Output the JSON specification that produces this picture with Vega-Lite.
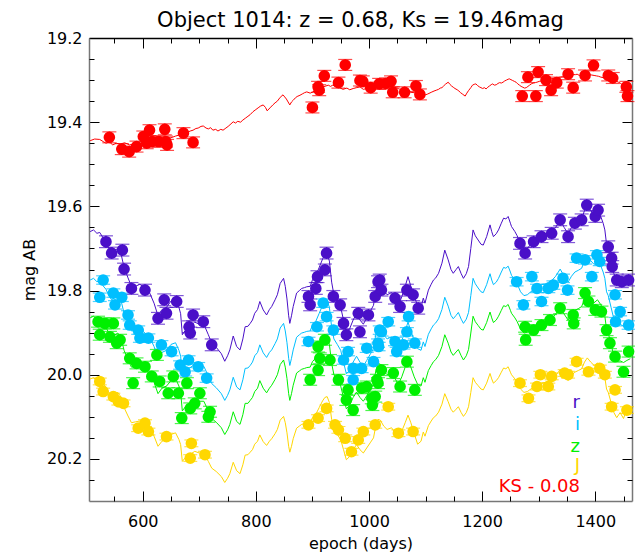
{
"$schema": "https://vega.github.io/schema/vega-lite/v6.json",
"width": 543, "height": 463,
"autosize": {"type": "none"},
"padding": {"left": 89, "top": 38, "right": 3, "bottom": 59},
"title": {"text": "Object 1014: z = 0.68, Ks = 19.46mag", "fontSize": 21, "font": "DejaVu Sans", "fontWeight": "normal", "color": "#000", "offset": -1},
"config": {
  "view": {"stroke": null},
  "font": "DejaVu Sans",
  "axis": {"labelFont": "DejaVu Sans", "titleFont": "DejaVu Sans", "labelFontSize": 16, "titleFontSize": 16, "labelColor": "#000", "titleColor": "#000", "titleFontWeight": "normal", "tickColor": "#000", "domainColor": "#777", "domainWidth": 1.5, "tickWidth": 1, "grid": false, "labelFlush": false}
},
"datasets": {
"ks": [
{"d":507,"m":19.444},{"d":515,"m":19.440},{"d":524,"m":19.441},{"d":530,"m":19.446},{"d":535,"m":19.450},{"d":541,"m":19.447},{"d":547,"m":19.454},{"d":553,"m":19.450},{"d":560,"m":19.452},{"d":568,"m":19.449},{"d":577,"m":19.454},{"d":585,"m":19.451},{"d":592,"m":19.449},{"d":600,"m":19.444},{"d":608,"m":19.446},{"d":615,"m":19.448},{"d":622,"m":19.445},{"d":629,"m":19.440},{"d":636,"m":19.442},{"d":643,"m":19.438},{"d":650,"m":19.437},{"d":658,"m":19.433},{"d":666,"m":19.430},{"d":672,"m":19.428},{"d":678,"m":19.425},{"d":684,"m":19.421},{"d":689,"m":19.419},{"d":694,"m":19.415},{"d":698,"m":19.414},{"d":703,"m":19.410},{"d":707,"m":19.409},{"d":712,"m":19.414},{"d":716,"m":19.416},{"d":720,"m":19.413},{"d":724,"m":19.419},{"d":729,"m":19.417},{"d":733,"m":19.421},{"d":738,"m":19.417},{"d":742,"m":19.419},{"d":747,"m":19.414},{"d":751,"m":19.410},{"d":756,"m":19.404},{"d":760,"m":19.399},{"d":764,"m":19.402},{"d":768,"m":19.398},{"d":773,"m":19.400},{"d":777,"m":19.395},{"d":782,"m":19.390},{"d":786,"m":19.386},{"d":790,"m":19.382},{"d":795,"m":19.375},{"d":800,"m":19.370},{"d":804,"m":19.366},{"d":808,"m":19.362},{"d":813,"m":19.359},{"d":817,"m":19.365},{"d":820,"m":19.373},{"d":825,"m":19.366},{"d":830,"m":19.359},{"d":834,"m":19.354},{"d":838,"m":19.350},{"d":843,"m":19.341},{"d":848,"m":19.335},{"d":851,"m":19.340},{"d":854,"m":19.345},{"d":857,"m":19.352},{"d":860,"m":19.359},{"d":863,"m":19.352},{"d":866,"m":19.348},{"d":870,"m":19.342},{"d":873,"m":19.339},{"d":878,"m":19.336},{"d":882,"m":19.333},{"d":886,"m":19.330},{"d":890,"m":19.328},{"d":896,"m":19.331},{"d":901,"m":19.328},{"d":905,"m":19.324},{"d":910,"m":19.322},{"d":914,"m":19.318},{"d":919,"m":19.316},{"d":924,"m":19.314},{"d":928,"m":19.312},{"d":932,"m":19.315},{"d":936,"m":19.312},{"d":942,"m":19.316},{"d":948,"m":19.318},{"d":954,"m":19.322},{"d":961,"m":19.319},{"d":966,"m":19.323},{"d":972,"m":19.320},{"d":978,"m":19.318},{"d":984,"m":19.316},{"d":990,"m":19.322},{"d":996,"m":19.320},{"d":1002,"m":19.315},{"d":1009,"m":19.318},{"d":1014,"m":19.314},{"d":1020,"m":19.316},{"d":1025,"m":19.313},{"d":1030,"m":19.312},{"d":1035,"m":19.316},{"d":1039,"m":19.314},{"d":1044,"m":19.317},{"d":1048,"m":19.318},{"d":1053,"m":19.321},{"d":1058,"m":19.323},{"d":1063,"m":19.328},{"d":1069,"m":19.326},{"d":1074,"m":19.329},{"d":1080,"m":19.330},{"d":1086,"m":19.332},{"d":1092,"m":19.334},{"d":1098,"m":19.336},{"d":1104,"m":19.333},{"d":1110,"m":19.329},{"d":1115,"m":19.326},{"d":1119,"m":19.324},{"d":1123,"m":19.322},{"d":1126,"m":19.319},{"d":1129,"m":19.318},{"d":1132,"m":19.314},{"d":1135,"m":19.310},{"d":1138,"m":19.307},{"d":1140,"m":19.305},{"d":1143,"m":19.310},{"d":1146,"m":19.314},{"d":1149,"m":19.317},{"d":1152,"m":19.320},{"d":1156,"m":19.323},{"d":1159,"m":19.326},{"d":1162,"m":19.330},{"d":1165,"m":19.333},{"d":1168,"m":19.336},{"d":1170,"m":19.338},{"d":1173,"m":19.331},{"d":1176,"m":19.325},{"d":1180,"m":19.318},{"d":1183,"m":19.312},{"d":1186,"m":19.310},{"d":1189,"m":19.309},{"d":1192,"m":19.313},{"d":1195,"m":19.316},{"d":1198,"m":19.318},{"d":1201,"m":19.320},{"d":1204,"m":19.318},{"d":1207,"m":19.321},{"d":1210,"m":19.317},{"d":1213,"m":19.314},{"d":1216,"m":19.311},{"d":1218,"m":19.309},{"d":1222,"m":19.312},{"d":1225,"m":19.311},{"d":1228,"m":19.308},{"d":1231,"m":19.306},{"d":1234,"m":19.307},{"d":1237,"m":19.305},{"d":1240,"m":19.302},{"d":1243,"m":19.300},{"d":1246,"m":19.298},{"d":1248,"m":19.297},{"d":1251,"m":19.299},{"d":1254,"m":19.301},{"d":1257,"m":19.303},{"d":1260,"m":19.305},{"d":1263,"m":19.309},{"d":1266,"m":19.312},{"d":1269,"m":19.315},{"d":1272,"m":19.317},{"d":1275,"m":19.319},{"d":1278,"m":19.318},{"d":1281,"m":19.315},{"d":1284,"m":19.312},{"d":1287,"m":19.309},{"d":1290,"m":19.307},{"d":1294,"m":19.306},{"d":1297,"m":19.305},{"d":1301,"m":19.303},{"d":1305,"m":19.302},{"d":1310,"m":19.301},{"d":1314,"m":19.300},{"d":1318,"m":19.298},{"d":1322,"m":19.297},{"d":1326,"m":19.296},{"d":1330,"m":19.295},{"d":1334,"m":19.294},{"d":1338,"m":19.293},{"d":1342,"m":19.292},{"d":1346,"m":19.291},{"d":1350,"m":19.290},{"d":1354,"m":19.288},{"d":1358,"m":19.288},{"d":1361,"m":19.287},{"d":1365,"m":19.287},{"d":1368,"m":19.286},{"d":1372,"m":19.289},{"d":1376,"m":19.292},{"d":1380,"m":19.290},{"d":1383,"m":19.288},{"d":1387,"m":19.287},{"d":1390,"m":19.287},{"d":1394,"m":19.288},{"d":1398,"m":19.289},{"d":1402,"m":19.290},{"d":1406,"m":19.291},{"d":1410,"m":19.293},{"d":1414,"m":19.294},{"d":1418,"m":19.293},{"d":1421,"m":19.292},{"d":1425,"m":19.292},{"d":1428,"m":19.293},{"d":1432,"m":19.297},{"d":1436,"m":19.300},{"d":1438,"m":19.303},{"d":1441,"m":19.305},{"d":1444,"m":19.307},{"d":1446,"m":19.309},{"d":1449,"m":19.312},{"d":1452,"m":19.315},{"d":1455,"m":19.318},{"d":1458,"m":19.320},{"d":1461,"m":19.323},{"d":1464,"m":19.326}
],
"lines": [
{"s":"r","d":507,"m":19.660},{"s":"r","d":513,"m":19.656},{"s":"r","d":519,"m":19.664},{"s":"r","d":524,"m":19.662},{"s":"r","d":530,"m":19.675},{"s":"r","d":535,"m":19.684},{"s":"r","d":540,"m":19.700},{"s":"r","d":545,"m":19.711},{"s":"r","d":550,"m":19.705},{"s":"r","d":556,"m":19.700},{"s":"r","d":562,"m":19.715},{"s":"r","d":567,"m":19.745},{"s":"r","d":574,"m":19.770},{"s":"r","d":580,"m":19.790},{"s":"r","d":587,"m":19.790},{"s":"r","d":595,"m":19.785},{"s":"r","d":604,"m":19.795},{"s":"r","d":612,"m":19.805},{"s":"r","d":620,"m":19.830},{"s":"r","d":627,"m":19.860},{"s":"r","d":634,"m":19.845},{"s":"r","d":642,"m":19.840},{"s":"r","d":650,"m":19.825},{"s":"r","d":658,"m":19.820},{"s":"r","d":664,"m":19.840},{"s":"r","d":667,"m":19.855},{"s":"r","d":670,"m":19.905},{"s":"r","d":676,"m":19.893},{"s":"r","d":683,"m":19.885},{"s":"r","d":692,"m":19.875},{"s":"r","d":700,"m":19.880},{"s":"r","d":708,"m":19.880},{"s":"r","d":716,"m":19.905},{"s":"r","d":722,"m":19.925},{"s":"r","d":730,"m":19.935},{"s":"r","d":739,"m":19.950},{"s":"r","d":745,"m":19.968},{"s":"r","d":750,"m":19.955},{"s":"r","d":754,"m":19.941},{"s":"r","d":760,"m":19.908},{"s":"r","d":766,"m":19.933},{"s":"r","d":772,"m":19.941},{"s":"r","d":777,"m":19.915},{"s":"r","d":781,"m":19.886},{"s":"r","d":786,"m":19.885},{"s":"r","d":790,"m":19.878},{"s":"r","d":794,"m":19.870},{"s":"r","d":798,"m":19.854},{"s":"r","d":803,"m":19.845},{"s":"r","d":807,"m":19.826},{"s":"r","d":813,"m":19.846},{"s":"r","d":819,"m":19.858},{"s":"r","d":824,"m":19.845},{"s":"r","d":828,"m":19.838},{"s":"r","d":834,"m":19.822},{"s":"r","d":838,"m":19.810},{"s":"r","d":843,"m":19.783},{"s":"r","d":849,"m":19.771},{"s":"r","d":852,"m":19.790},{"s":"r","d":855,"m":19.820},{"s":"r","d":858,"m":19.860},{"s":"r","d":860,"m":19.878},{"s":"r","d":863,"m":19.860},{"s":"r","d":866,"m":19.838},{"s":"r","d":872,"m":19.806},{"s":"r","d":877,"m":19.800},{"s":"r","d":881,"m":19.795},{"s":"r","d":886,"m":19.793},{"s":"r","d":890,"m":19.791},{"s":"r","d":896,"m":19.790},{"s":"r","d":900,"m":19.775},{"s":"r","d":906,"m":19.765},{"s":"r","d":912,"m":19.745},{"s":"r","d":918,"m":19.725},{"s":"r","d":922,"m":19.715},{"s":"r","d":926,"m":19.713},{"s":"r","d":930,"m":19.730},{"s":"r","d":934,"m":19.780},{"s":"r","d":938,"m":19.810},{"s":"r","d":944,"m":19.825},{"s":"r","d":950,"m":19.840},{"s":"r","d":955,"m":19.870},{"s":"r","d":960,"m":19.900},{"s":"r","d":966,"m":19.890},{"s":"r","d":972,"m":19.870},{"s":"r","d":978,"m":19.855},{"s":"r","d":984,"m":19.870},{"s":"r","d":990,"m":19.880},{"s":"r","d":996,"m":19.865},{"s":"r","d":1002,"m":19.850},{"s":"r","d":1008,"m":19.835},{"s":"r","d":1012,"m":19.800},{"s":"r","d":1016,"m":19.780},{"s":"r","d":1020,"m":19.780},{"s":"r","d":1026,"m":19.800},{"s":"r","d":1032,"m":19.810},{"s":"r","d":1040,"m":19.805},{"s":"r","d":1046,"m":19.820},{"s":"r","d":1052,"m":19.835},{"s":"r","d":1058,"m":19.815},{"s":"r","d":1064,"m":19.790},{"s":"r","d":1069,"m":19.767},{"s":"r","d":1074,"m":19.790},{"s":"r","d":1080,"m":19.815},{"s":"r","d":1086,"m":19.835},{"s":"r","d":1092,"m":19.840},{"s":"r","d":1096,"m":19.818},{"s":"r","d":1099,"m":19.830},{"s":"r","d":1105,"m":19.799},{"s":"r","d":1110,"m":19.785},{"s":"r","d":1114,"m":19.775},{"s":"r","d":1118,"m":19.770},{"s":"r","d":1123,"m":19.759},{"s":"r","d":1129,"m":19.735},{"s":"r","d":1134,"m":19.704},{"s":"r","d":1140,"m":19.727},{"s":"r","d":1145,"m":19.750},{"s":"r","d":1149,"m":19.759},{"s":"r","d":1154,"m":19.750},{"s":"r","d":1158,"m":19.743},{"s":"r","d":1163,"m":19.760},{"s":"r","d":1167,"m":19.771},{"s":"r","d":1172,"m":19.760},{"s":"r","d":1176,"m":19.743},{"s":"r","d":1180,"m":19.700},{"s":"r","d":1184,"m":19.656},{"s":"r","d":1188,"m":19.670},{"s":"r","d":1193,"m":19.680},{"s":"r","d":1198,"m":19.690},{"s":"r","d":1202,"m":19.692},{"s":"r","d":1208,"m":19.672},{"s":"r","d":1214,"m":19.644},{"s":"r","d":1217,"m":19.660},{"s":"r","d":1220,"m":19.672},{"s":"r","d":1225,"m":19.665},{"s":"r","d":1229,"m":19.656},{"s":"r","d":1234,"m":19.640},{"s":"r","d":1238,"m":19.628},{"s":"r","d":1242,"m":19.630},{"s":"r","d":1246,"m":19.624},{"s":"r","d":1250,"m":19.640},{"s":"r","d":1252,"m":19.648},{"s":"r","d":1258,"m":19.660},{"s":"r","d":1262,"m":19.670},{"s":"r","d":1268,"m":19.690},{"s":"r","d":1274,"m":19.700},{"s":"r","d":1280,"m":19.700},{"s":"r","d":1286,"m":19.690},{"s":"r","d":1292,"m":19.685},{"s":"r","d":1298,"m":19.680},{"s":"r","d":1305,"m":19.672},{"s":"r","d":1312,"m":19.670},{"s":"r","d":1318,"m":19.665},{"s":"r","d":1324,"m":19.660},{"s":"r","d":1330,"m":19.650},{"s":"r","d":1338,"m":19.632},{"s":"r","d":1345,"m":19.650},{"s":"r","d":1352,"m":19.665},{"s":"r","d":1358,"m":19.650},{"s":"r","d":1364,"m":19.640},{"s":"r","d":1370,"m":19.635},{"s":"r","d":1376,"m":19.630},{"s":"r","d":1381,"m":19.610},{"s":"r","d":1386,"m":19.597},{"s":"r","d":1392,"m":19.610},{"s":"r","d":1398,"m":19.620},{"s":"r","d":1404,"m":19.612},{"s":"r","d":1410,"m":19.625},{"s":"r","d":1414,"m":19.640},{"s":"r","d":1417,"m":19.656},{"s":"r","d":1420,"m":19.690},{"s":"r","d":1423,"m":19.700},{"s":"r","d":1428,"m":19.730},{"s":"r","d":1433,"m":19.760},{"s":"r","d":1438,"m":19.775},{"s":"r","d":1444,"m":19.775},{"s":"r","d":1450,"m":19.778},{"s":"r","d":1456,"m":19.772},{"s":"r","d":1462,"m":19.768},
{"s":"i","d":507,"m":19.775},{"s":"i","d":513,"m":19.771},{"s":"i","d":519,"m":19.779},{"s":"i","d":524,"m":19.777},{"s":"i","d":530,"m":19.789},{"s":"i","d":535,"m":19.797},{"s":"i","d":540,"m":19.812},{"s":"i","d":545,"m":19.822},{"s":"i","d":550,"m":19.817},{"s":"i","d":556,"m":19.812},{"s":"i","d":562,"m":19.826},{"s":"i","d":567,"m":19.854},{"s":"i","d":574,"m":19.877},{"s":"i","d":580,"m":19.896},{"s":"i","d":587,"m":19.894},{"s":"i","d":595,"m":19.891},{"s":"i","d":604,"m":19.901},{"s":"i","d":612,"m":19.910},{"s":"i","d":620,"m":19.933},{"s":"i","d":627,"m":19.961},{"s":"i","d":634,"m":19.947},{"s":"i","d":642,"m":19.942},{"s":"i","d":650,"m":19.928},{"s":"i","d":658,"m":19.924},{"s":"i","d":664,"m":19.942},{"s":"i","d":667,"m":19.956},{"s":"i","d":670,"m":20.003},{"s":"i","d":676,"m":19.992},{"s":"i","d":683,"m":19.984},{"s":"i","d":692,"m":19.975},{"s":"i","d":700,"m":19.980},{"s":"i","d":708,"m":19.980},{"s":"i","d":716,"m":20.003},{"s":"i","d":722,"m":20.021},{"s":"i","d":730,"m":20.031},{"s":"i","d":739,"m":20.045},{"s":"i","d":745,"m":20.061},{"s":"i","d":750,"m":20.049},{"s":"i","d":754,"m":20.036},{"s":"i","d":760,"m":20.006},{"s":"i","d":766,"m":20.029},{"s":"i","d":772,"m":20.036},{"s":"i","d":777,"m":20.012},{"s":"i","d":781,"m":19.985},{"s":"i","d":786,"m":19.984},{"s":"i","d":790,"m":19.978},{"s":"i","d":794,"m":19.970},{"s":"i","d":798,"m":19.955},{"s":"i","d":803,"m":19.947},{"s":"i","d":807,"m":19.929},{"s":"i","d":813,"m":19.948},{"s":"i","d":819,"m":19.959},{"s":"i","d":824,"m":19.947},{"s":"i","d":828,"m":19.941},{"s":"i","d":834,"m":19.926},{"s":"i","d":838,"m":19.915},{"s":"i","d":843,"m":19.889},{"s":"i","d":849,"m":19.878},{"s":"i","d":852,"m":19.896},{"s":"i","d":855,"m":19.924},{"s":"i","d":858,"m":19.961},{"s":"i","d":860,"m":19.978},{"s":"i","d":863,"m":19.961},{"s":"i","d":866,"m":19.941},{"s":"i","d":872,"m":19.911},{"s":"i","d":877,"m":19.905},{"s":"i","d":881,"m":19.901},{"s":"i","d":886,"m":19.899},{"s":"i","d":890,"m":19.897},{"s":"i","d":896,"m":19.896},{"s":"i","d":900,"m":19.882},{"s":"i","d":906,"m":19.873},{"s":"i","d":912,"m":19.854},{"s":"i","d":918,"m":19.835},{"s":"i","d":922,"m":19.826},{"s":"i","d":926,"m":19.824},{"s":"i","d":930,"m":19.840},{"s":"i","d":934,"m":19.887},{"s":"i","d":938,"m":19.915},{"s":"i","d":944,"m":19.928},{"s":"i","d":950,"m":19.942},{"s":"i","d":955,"m":19.970},{"s":"i","d":960,"m":19.998},{"s":"i","d":966,"m":19.989},{"s":"i","d":972,"m":19.970},{"s":"i","d":978,"m":19.956},{"s":"i","d":984,"m":19.970},{"s":"i","d":990,"m":19.980},{"s":"i","d":996,"m":19.966},{"s":"i","d":1002,"m":19.952},{"s":"i","d":1008,"m":19.938},{"s":"i","d":1012,"m":19.905},{"s":"i","d":1016,"m":19.887},{"s":"i","d":1020,"m":19.889},{"s":"i","d":1026,"m":19.905},{"s":"i","d":1032,"m":19.915},{"s":"i","d":1040,"m":19.910},{"s":"i","d":1046,"m":19.924},{"s":"i","d":1052,"m":19.938},{"s":"i","d":1058,"m":19.919},{"s":"i","d":1064,"m":19.896},{"s":"i","d":1069,"m":19.875},{"s":"i","d":1074,"m":19.896},{"s":"i","d":1080,"m":19.919},{"s":"i","d":1086,"m":19.938},{"s":"i","d":1092,"m":19.942},{"s":"i","d":1096,"m":19.922},{"s":"i","d":1099,"m":19.933},{"s":"i","d":1105,"m":19.904},{"s":"i","d":1110,"m":19.891},{"s":"i","d":1114,"m":19.882},{"s":"i","d":1118,"m":19.877},{"s":"i","d":1123,"m":19.867},{"s":"i","d":1129,"m":19.845},{"s":"i","d":1134,"m":19.816},{"s":"i","d":1140,"m":19.837},{"s":"i","d":1145,"m":19.859},{"s":"i","d":1149,"m":19.867},{"s":"i","d":1154,"m":19.859},{"s":"i","d":1158,"m":19.852},{"s":"i","d":1163,"m":19.868},{"s":"i","d":1167,"m":19.878},{"s":"i","d":1172,"m":19.868},{"s":"i","d":1176,"m":19.852},{"s":"i","d":1180,"m":19.812},{"s":"i","d":1184,"m":19.771},{"s":"i","d":1188,"m":19.784},{"s":"i","d":1193,"m":19.794},{"s":"i","d":1198,"m":19.803},{"s":"i","d":1202,"m":19.805},{"s":"i","d":1208,"m":19.786},{"s":"i","d":1214,"m":19.760},{"s":"i","d":1217,"m":19.775},{"s":"i","d":1220,"m":19.786},{"s":"i","d":1225,"m":19.780},{"s":"i","d":1229,"m":19.771},{"s":"i","d":1234,"m":19.756},{"s":"i","d":1238,"m":19.745},{"s":"i","d":1242,"m":19.747},{"s":"i","d":1246,"m":19.742},{"s":"i","d":1250,"m":19.756},{"s":"i","d":1252,"m":19.764},{"s":"i","d":1258,"m":19.775},{"s":"i","d":1262,"m":19.784},{"s":"i","d":1268,"m":19.803},{"s":"i","d":1274,"m":19.812},{"s":"i","d":1280,"m":19.810},{"s":"i","d":1286,"m":19.803},{"s":"i","d":1292,"m":19.798},{"s":"i","d":1298,"m":19.794},{"s":"i","d":1305,"m":19.786},{"s":"i","d":1312,"m":19.784},{"s":"i","d":1318,"m":19.780},{"s":"i","d":1324,"m":19.775},{"s":"i","d":1330,"m":19.766},{"s":"i","d":1338,"m":19.749},{"s":"i","d":1345,"m":19.766},{"s":"i","d":1352,"m":19.780},{"s":"i","d":1358,"m":19.766},{"s":"i","d":1364,"m":19.756},{"s":"i","d":1370,"m":19.752},{"s":"i","d":1376,"m":19.747},{"s":"i","d":1381,"m":19.729},{"s":"i","d":1386,"m":19.716},{"s":"i","d":1392,"m":19.729},{"s":"i","d":1398,"m":19.738},{"s":"i","d":1404,"m":19.730},{"s":"i","d":1410,"m":19.742},{"s":"i","d":1414,"m":19.756},{"s":"i","d":1417,"m":19.771},{"s":"i","d":1420,"m":19.803},{"s":"i","d":1423,"m":19.812},{"s":"i","d":1428,"m":19.840},{"s":"i","d":1433,"m":19.868},{"s":"i","d":1438,"m":19.882},{"s":"i","d":1444,"m":19.880},{"s":"i","d":1450,"m":19.885},{"s":"i","d":1456,"m":19.879},{"s":"i","d":1462,"m":19.875},
{"s":"z","d":507,"m":19.865},{"s":"z","d":513,"m":19.861},{"s":"z","d":519,"m":19.869},{"s":"z","d":524,"m":19.867},{"s":"z","d":530,"m":19.879},{"s":"z","d":535,"m":19.887},{"s":"z","d":540,"m":19.901},{"s":"z","d":545,"m":19.911},{"s":"z","d":550,"m":19.906},{"s":"z","d":556,"m":19.901},{"s":"z","d":562,"m":19.915},{"s":"z","d":567,"m":19.942},{"s":"z","d":574,"m":19.964},{"s":"z","d":580,"m":19.982},{"s":"z","d":587,"m":19.980},{"s":"z","d":595,"m":19.978},{"s":"z","d":604,"m":19.987},{"s":"z","d":612,"m":19.996},{"s":"z","d":620,"m":20.018},{"s":"z","d":627,"m":20.045},{"s":"z","d":634,"m":20.032},{"s":"z","d":642,"m":20.027},{"s":"z","d":650,"m":20.014},{"s":"z","d":658,"m":20.009},{"s":"z","d":664,"m":20.027},{"s":"z","d":667,"m":20.041},{"s":"z","d":670,"m":20.086},{"s":"z","d":676,"m":20.075},{"s":"z","d":683,"m":20.068},{"s":"z","d":692,"m":20.059},{"s":"z","d":700,"m":20.063},{"s":"z","d":708,"m":20.063},{"s":"z","d":716,"m":20.086},{"s":"z","d":722,"m":20.104},{"s":"z","d":730,"m":20.113},{"s":"z","d":739,"m":20.126},{"s":"z","d":745,"m":20.142},{"s":"z","d":750,"m":20.131},{"s":"z","d":754,"m":20.118},{"s":"z","d":760,"m":20.088},{"s":"z","d":766,"m":20.111},{"s":"z","d":772,"m":20.118},{"s":"z","d":777,"m":20.095},{"s":"z","d":781,"m":20.068},{"s":"z","d":786,"m":20.068},{"s":"z","d":790,"m":20.061},{"s":"z","d":794,"m":20.054},{"s":"z","d":798,"m":20.040},{"s":"z","d":803,"m":20.032},{"s":"z","d":807,"m":20.014},{"s":"z","d":813,"m":20.032},{"s":"z","d":819,"m":20.043},{"s":"z","d":824,"m":20.032},{"s":"z","d":828,"m":20.025},{"s":"z","d":834,"m":20.011},{"s":"z","d":838,"m":20.000},{"s":"z","d":843,"m":19.976},{"s":"z","d":849,"m":19.965},{"s":"z","d":852,"m":19.982},{"s":"z","d":855,"m":20.009},{"s":"z","d":858,"m":20.045},{"s":"z","d":860,"m":20.061},{"s":"z","d":863,"m":20.045},{"s":"z","d":866,"m":20.025},{"s":"z","d":872,"m":19.996},{"s":"z","d":877,"m":19.991},{"s":"z","d":881,"m":19.987},{"s":"z","d":886,"m":19.985},{"s":"z","d":890,"m":19.983},{"s":"z","d":896,"m":19.982},{"s":"z","d":900,"m":19.969},{"s":"z","d":906,"m":19.960},{"s":"z","d":912,"m":19.942},{"s":"z","d":918,"m":19.924},{"s":"z","d":922,"m":19.915},{"s":"z","d":926,"m":19.913},{"s":"z","d":930,"m":19.928},{"s":"z","d":934,"m":19.973},{"s":"z","d":938,"m":20.000},{"s":"z","d":944,"m":20.014},{"s":"z","d":950,"m":20.027},{"s":"z","d":955,"m":20.054},{"s":"z","d":960,"m":20.081},{"s":"z","d":966,"m":20.072},{"s":"z","d":972,"m":20.054},{"s":"z","d":978,"m":20.041},{"s":"z","d":984,"m":20.054},{"s":"z","d":990,"m":20.063},{"s":"z","d":996,"m":20.050},{"s":"z","d":1002,"m":20.036},{"s":"z","d":1008,"m":20.023},{"s":"z","d":1012,"m":19.991},{"s":"z","d":1016,"m":19.973},{"s":"z","d":1020,"m":19.975},{"s":"z","d":1026,"m":19.991},{"s":"z","d":1032,"m":20.000},{"s":"z","d":1040,"m":19.996},{"s":"z","d":1046,"m":20.009},{"s":"z","d":1052,"m":20.023},{"s":"z","d":1058,"m":20.005},{"s":"z","d":1064,"m":19.982},{"s":"z","d":1069,"m":19.961},{"s":"z","d":1074,"m":19.982},{"s":"z","d":1080,"m":20.005},{"s":"z","d":1086,"m":20.023},{"s":"z","d":1092,"m":20.027},{"s":"z","d":1096,"m":20.007},{"s":"z","d":1099,"m":20.018},{"s":"z","d":1105,"m":19.990},{"s":"z","d":1110,"m":19.978},{"s":"z","d":1114,"m":19.969},{"s":"z","d":1118,"m":19.964},{"s":"z","d":1123,"m":19.954},{"s":"z","d":1129,"m":19.933},{"s":"z","d":1134,"m":19.905},{"s":"z","d":1140,"m":19.925},{"s":"z","d":1145,"m":19.946},{"s":"z","d":1149,"m":19.954},{"s":"z","d":1154,"m":19.946},{"s":"z","d":1158,"m":19.940},{"s":"z","d":1163,"m":19.955},{"s":"z","d":1167,"m":19.965},{"s":"z","d":1172,"m":19.955},{"s":"z","d":1176,"m":19.940},{"s":"z","d":1180,"m":19.901},{"s":"z","d":1184,"m":19.861},{"s":"z","d":1188,"m":19.874},{"s":"z","d":1193,"m":19.883},{"s":"z","d":1198,"m":19.892},{"s":"z","d":1202,"m":19.894},{"s":"z","d":1208,"m":19.876},{"s":"z","d":1214,"m":19.851},{"s":"z","d":1217,"m":19.865},{"s":"z","d":1220,"m":19.876},{"s":"z","d":1225,"m":19.870},{"s":"z","d":1229,"m":19.861},{"s":"z","d":1234,"m":19.847},{"s":"z","d":1238,"m":19.836},{"s":"z","d":1242,"m":19.838},{"s":"z","d":1246,"m":19.833},{"s":"z","d":1250,"m":19.847},{"s":"z","d":1252,"m":19.854},{"s":"z","d":1258,"m":19.865},{"s":"z","d":1262,"m":19.874},{"s":"z","d":1268,"m":19.892},{"s":"z","d":1274,"m":19.901},{"s":"z","d":1280,"m":19.899},{"s":"z","d":1286,"m":19.892},{"s":"z","d":1292,"m":19.888},{"s":"z","d":1298,"m":19.883},{"s":"z","d":1305,"m":19.876},{"s":"z","d":1312,"m":19.874},{"s":"z","d":1318,"m":19.870},{"s":"z","d":1324,"m":19.865},{"s":"z","d":1330,"m":19.856},{"s":"z","d":1338,"m":19.840},{"s":"z","d":1345,"m":19.856},{"s":"z","d":1352,"m":19.870},{"s":"z","d":1358,"m":19.856},{"s":"z","d":1364,"m":19.847},{"s":"z","d":1370,"m":19.843},{"s":"z","d":1376,"m":19.838},{"s":"z","d":1381,"m":19.820},{"s":"z","d":1386,"m":19.808},{"s":"z","d":1392,"m":19.820},{"s":"z","d":1398,"m":19.829},{"s":"z","d":1404,"m":19.822},{"s":"z","d":1410,"m":19.834},{"s":"z","d":1414,"m":19.847},{"s":"z","d":1417,"m":19.861},{"s":"z","d":1420,"m":19.892},{"s":"z","d":1423,"m":19.901},{"s":"z","d":1428,"m":19.928},{"s":"z","d":1433,"m":19.955},{"s":"z","d":1438,"m":19.969},{"s":"z","d":1444,"m":19.967},{"s":"z","d":1450,"m":19.971},{"s":"z","d":1456,"m":19.966},{"s":"z","d":1462,"m":19.962},
{"s":"J","d":507,"m":20.010},{"s":"J","d":513,"m":20.007},{"s":"J","d":519,"m":20.013},{"s":"J","d":524,"m":20.012},{"s":"J","d":530,"m":20.022},{"s":"J","d":535,"m":20.029},{"s":"J","d":540,"m":20.042},{"s":"J","d":545,"m":20.051},{"s":"J","d":550,"m":20.046},{"s":"J","d":556,"m":20.042},{"s":"J","d":562,"m":20.054},{"s":"J","d":567,"m":20.078},{"s":"J","d":574,"m":20.098},{"s":"J","d":580,"m":20.114},{"s":"J","d":587,"m":20.112},{"s":"J","d":595,"m":20.110},{"s":"J","d":604,"m":20.118},{"s":"J","d":612,"m":20.126},{"s":"J","d":620,"m":20.146},{"s":"J","d":627,"m":20.170},{"s":"J","d":634,"m":20.158},{"s":"J","d":642,"m":20.154},{"s":"J","d":650,"m":20.142},{"s":"J","d":658,"m":20.138},{"s":"J","d":664,"m":20.154},{"s":"J","d":667,"m":20.166},{"s":"J","d":670,"m":20.206},{"s":"J","d":676,"m":20.196},{"s":"J","d":683,"m":20.190},{"s":"J","d":692,"m":20.182},{"s":"J","d":700,"m":20.186},{"s":"J","d":708,"m":20.186},{"s":"J","d":716,"m":20.206},{"s":"J","d":722,"m":20.222},{"s":"J","d":730,"m":20.230},{"s":"J","d":739,"m":20.242},{"s":"J","d":745,"m":20.256},{"s":"J","d":750,"m":20.246},{"s":"J","d":754,"m":20.235},{"s":"J","d":760,"m":20.208},{"s":"J","d":766,"m":20.228},{"s":"J","d":772,"m":20.235},{"s":"J","d":777,"m":20.214},{"s":"J","d":781,"m":20.191},{"s":"J","d":786,"m":20.190},{"s":"J","d":790,"m":20.184},{"s":"J","d":794,"m":20.178},{"s":"J","d":798,"m":20.165},{"s":"J","d":803,"m":20.158},{"s":"J","d":807,"m":20.143},{"s":"J","d":813,"m":20.159},{"s":"J","d":819,"m":20.168},{"s":"J","d":824,"m":20.158},{"s":"J","d":828,"m":20.152},{"s":"J","d":834,"m":20.140},{"s":"J","d":838,"m":20.130},{"s":"J","d":843,"m":20.108},{"s":"J","d":849,"m":20.099},{"s":"J","d":852,"m":20.114},{"s":"J","d":855,"m":20.138},{"s":"J","d":858,"m":20.170},{"s":"J","d":860,"m":20.184},{"s":"J","d":863,"m":20.170},{"s":"J","d":866,"m":20.152},{"s":"J","d":872,"m":20.127},{"s":"J","d":877,"m":20.122},{"s":"J","d":881,"m":20.118},{"s":"J","d":886,"m":20.116},{"s":"J","d":890,"m":20.115},{"s":"J","d":896,"m":20.114},{"s":"J","d":900,"m":20.102},{"s":"J","d":906,"m":20.094},{"s":"J","d":912,"m":20.078},{"s":"J","d":918,"m":20.062},{"s":"J","d":922,"m":20.054},{"s":"J","d":926,"m":20.052},{"s":"J","d":930,"m":20.066},{"s":"J","d":934,"m":20.106},{"s":"J","d":938,"m":20.130},{"s":"J","d":944,"m":20.142},{"s":"J","d":950,"m":20.154},{"s":"J","d":955,"m":20.178},{"s":"J","d":960,"m":20.202},{"s":"J","d":966,"m":20.194},{"s":"J","d":972,"m":20.178},{"s":"J","d":978,"m":20.166},{"s":"J","d":984,"m":20.178},{"s":"J","d":990,"m":20.186},{"s":"J","d":996,"m":20.174},{"s":"J","d":1002,"m":20.162},{"s":"J","d":1008,"m":20.150},{"s":"J","d":1012,"m":20.122},{"s":"J","d":1016,"m":20.106},{"s":"J","d":1020,"m":20.108},{"s":"J","d":1026,"m":20.122},{"s":"J","d":1032,"m":20.130},{"s":"J","d":1040,"m":20.126},{"s":"J","d":1046,"m":20.138},{"s":"J","d":1052,"m":20.150},{"s":"J","d":1058,"m":20.134},{"s":"J","d":1064,"m":20.114},{"s":"J","d":1069,"m":20.096},{"s":"J","d":1074,"m":20.114},{"s":"J","d":1080,"m":20.140},{"s":"J","d":1086,"m":20.165},{"s":"J","d":1092,"m":20.158},{"s":"J","d":1096,"m":20.136},{"s":"J","d":1099,"m":20.146},{"s":"J","d":1105,"m":20.121},{"s":"J","d":1110,"m":20.110},{"s":"J","d":1114,"m":20.102},{"s":"J","d":1118,"m":20.098},{"s":"J","d":1123,"m":20.089},{"s":"J","d":1129,"m":20.070},{"s":"J","d":1134,"m":20.045},{"s":"J","d":1140,"m":20.064},{"s":"J","d":1145,"m":20.082},{"s":"J","d":1149,"m":20.089},{"s":"J","d":1154,"m":20.082},{"s":"J","d":1158,"m":20.076},{"s":"J","d":1163,"m":20.090},{"s":"J","d":1167,"m":20.099},{"s":"J","d":1172,"m":20.090},{"s":"J","d":1176,"m":20.076},{"s":"J","d":1180,"m":20.042},{"s":"J","d":1184,"m":20.007},{"s":"J","d":1188,"m":20.018},{"s":"J","d":1193,"m":20.026},{"s":"J","d":1198,"m":20.034},{"s":"J","d":1202,"m":20.036},{"s":"J","d":1208,"m":20.020},{"s":"J","d":1214,"m":19.997},{"s":"J","d":1217,"m":20.010},{"s":"J","d":1220,"m":20.020},{"s":"J","d":1225,"m":20.014},{"s":"J","d":1229,"m":20.007},{"s":"J","d":1234,"m":19.994},{"s":"J","d":1238,"m":19.984},{"s":"J","d":1242,"m":19.986},{"s":"J","d":1246,"m":19.981},{"s":"J","d":1250,"m":19.994},{"s":"J","d":1252,"m":20.000},{"s":"J","d":1258,"m":20.010},{"s":"J","d":1262,"m":20.018},{"s":"J","d":1268,"m":20.034},{"s":"J","d":1274,"m":20.042},{"s":"J","d":1280,"m":20.040},{"s":"J","d":1286,"m":20.034},{"s":"J","d":1292,"m":20.030},{"s":"J","d":1298,"m":20.026},{"s":"J","d":1305,"m":20.020},{"s":"J","d":1312,"m":20.018},{"s":"J","d":1318,"m":20.014},{"s":"J","d":1324,"m":20.010},{"s":"J","d":1330,"m":20.002},{"s":"J","d":1338,"m":19.988},{"s":"J","d":1345,"m":20.002},{"s":"J","d":1352,"m":20.014},{"s":"J","d":1358,"m":20.002},{"s":"J","d":1364,"m":19.994},{"s":"J","d":1370,"m":19.990},{"s":"J","d":1376,"m":19.986},{"s":"J","d":1381,"m":19.970},{"s":"J","d":1386,"m":19.960},{"s":"J","d":1392,"m":19.970},{"s":"J","d":1398,"m":19.978},{"s":"J","d":1404,"m":19.972},{"s":"J","d":1410,"m":19.982},{"s":"J","d":1414,"m":19.994},{"s":"J","d":1417,"m":20.007},{"s":"J","d":1420,"m":20.034},{"s":"J","d":1423,"m":20.042},{"s":"J","d":1428,"m":20.066},{"s":"J","d":1433,"m":20.090},{"s":"J","d":1438,"m":20.102},{"s":"J","d":1444,"m":20.090},{"s":"J","d":1450,"m":20.104},{"s":"J","d":1456,"m":20.080},{"s":"J","d":1462,"m":20.096}
],
"pts": [
{"s":"Ks","d":541,"m":19.436,"e":0.013},{"s":"Ks","d":563,"m":19.464,"e":0.013},{"s":"Ks","d":576,"m":19.470,"e":0.013},{"s":"Ks","d":589,"m":19.458,"e":0.013},{"s":"Ks","d":601,"m":19.434,"e":0.013},{"s":"Ks","d":607,"m":19.450,"e":0.013},{"s":"Ks","d":612,"m":19.419,"e":0.013},{"s":"Ks","d":616,"m":19.446,"e":0.013},{"s":"Ks","d":628,"m":19.446,"e":0.013},{"s":"Ks","d":639,"m":19.417,"e":0.013},{"s":"Ks","d":641,"m":19.446,"e":0.013},{"s":"Ks","d":643,"m":19.454,"e":0.013},{"s":"Ks","d":672,"m":19.426,"e":0.013},{"s":"Ks","d":689,"m":19.448,"e":0.013},{"s":"Ks","d":900,"m":19.365,"e":0.013},{"s":"Ks","d":910,"m":19.316,"e":0.013},{"s":"Ks","d":912,"m":19.324,"e":0.013},{"s":"Ks","d":921,"m":19.290,"e":0.013},{"s":"Ks","d":946,"m":19.306,"e":0.013},{"s":"Ks","d":958,"m":19.264,"e":0.013},{"s":"Ks","d":984,"m":19.301,"e":0.013},{"s":"Ks","d":989,"m":19.303,"e":0.013},{"s":"Ks","d":1003,"m":19.318,"e":0.013},{"s":"Ks","d":1018,"m":19.309,"e":0.013},{"s":"Ks","d":1030,"m":19.308,"e":0.013},{"s":"Ks","d":1039,"m":19.303,"e":0.013},{"s":"Ks","d":1042,"m":19.329,"e":0.013},{"s":"Ks","d":1063,"m":19.329,"e":0.013},{"s":"Ks","d":1083,"m":19.314,"e":0.013},{"s":"Ks","d":1090,"m":19.334,"e":0.013},{"s":"Ks","d":1271,"m":19.338,"e":0.013},{"s":"Ks","d":1281,"m":19.293,"e":0.013},{"s":"Ks","d":1295,"m":19.338,"e":0.013},{"s":"Ks","d":1299,"m":19.281,"e":0.013},{"s":"Ks","d":1313,"m":19.300,"e":0.013},{"s":"Ks","d":1322,"m":19.324,"e":0.013},{"s":"Ks","d":1332,"m":19.306,"e":0.013},{"s":"Ks","d":1352,"m":19.286,"e":0.013},{"s":"Ks","d":1361,"m":19.318,"e":0.013},{"s":"Ks","d":1382,"m":19.289,"e":0.013},{"s":"Ks","d":1397,"m":19.265,"e":0.013},{"s":"Ks","d":1423,"m":19.289,"e":0.013},{"s":"Ks","d":1431,"m":19.295,"e":0.013},{"s":"Ks","d":1455,"m":19.316,"e":0.013},{"s":"Ks","d":1457,"m":19.338,"e":0.013},
{"s":"r","d":535,"m":19.684,"e":0.014},{"s":"r","d":545,"m":19.711,"e":0.014},{"s":"r","d":564,"m":19.704,"e":0.014},{"s":"r","d":567,"m":19.749,"e":0.014},{"s":"r","d":580,"m":19.795,"e":0.014},{"s":"r","d":604,"m":19.799,"e":0.014},{"s":"r","d":627,"m":19.866,"e":0.014},{"s":"r","d":638,"m":19.822,"e":0.014},{"s":"r","d":642,"m":19.854,"e":0.014},{"s":"r","d":660,"m":19.826,"e":0.014},{"s":"r","d":682,"m":19.886,"e":0.014},{"s":"r","d":684,"m":19.901,"e":0.014},{"s":"r","d":689,"m":19.858,"e":0.014},{"s":"r","d":707,"m":19.874,"e":0.014},{"s":"r","d":722,"m":19.929,"e":0.014},{"s":"r","d":893,"m":19.814,"e":0.014},{"s":"r","d":896,"m":19.834,"e":0.014},{"s":"r","d":906,"m":19.795,"e":0.014},{"s":"r","d":909,"m":19.767,"e":0.014},{"s":"r","d":922,"m":19.751,"e":0.014},{"s":"r","d":925,"m":19.711,"e":0.014},{"s":"r","d":937,"m":19.814,"e":0.014},{"s":"r","d":949,"m":19.834,"e":0.014},{"s":"r","d":955,"m":19.878,"e":0.014},{"s":"r","d":960,"m":19.905,"e":0.014},{"s":"r","d":981,"m":19.854,"e":0.014},{"s":"r","d":984,"m":19.898,"e":0.014},{"s":"r","d":999,"m":19.858,"e":0.014},{"s":"r","d":1011,"m":19.814,"e":0.014},{"s":"r","d":1016,"m":19.779,"e":0.014},{"s":"r","d":1019,"m":19.775,"e":0.014},{"s":"r","d":1022,"m":19.799,"e":0.014},{"s":"r","d":1046,"m":19.818,"e":0.014},{"s":"r","d":1055,"m":19.838,"e":0.014},{"s":"r","d":1067,"m":19.799,"e":0.014},{"s":"r","d":1078,"m":19.810,"e":0.014},{"s":"r","d":1087,"m":19.842,"e":0.014},{"s":"r","d":1267,"m":19.688,"e":0.014},{"s":"r","d":1276,"m":19.711,"e":0.014},{"s":"r","d":1291,"m":19.684,"e":0.014},{"s":"r","d":1305,"m":19.672,"e":0.014},{"s":"r","d":1323,"m":19.664,"e":0.014},{"s":"r","d":1338,"m":19.632,"e":0.014},{"s":"r","d":1352,"m":19.672,"e":0.014},{"s":"r","d":1364,"m":19.640,"e":0.014},{"s":"r","d":1376,"m":19.632,"e":0.014},{"s":"r","d":1385,"m":19.597,"e":0.014},{"s":"r","d":1400,"m":19.624,"e":0.014},{"s":"r","d":1405,"m":19.609,"e":0.014},{"s":"r","d":1423,"m":19.696,"e":0.014},{"s":"r","d":1429,"m":19.723,"e":0.014},{"s":"r","d":1430,"m":19.743,"e":0.014},{"s":"r","d":1438,"m":19.775,"e":0.014},{"s":"r","d":1447,"m":19.779,"e":0.014},{"s":"r","d":1459,"m":19.775,"e":0.014},
{"s":"i","d":524,"m":19.816,"e":0.01},{"s":"i","d":530,"m":19.775,"e":0.01},{"s":"i","d":548,"m":19.806,"e":0.01},{"s":"i","d":551,"m":19.834,"e":0.01},{"s":"i","d":563,"m":19.816,"e":0.01},{"s":"i","d":574,"m":19.858,"e":0.01},{"s":"i","d":577,"m":19.882,"e":0.01},{"s":"i","d":592,"m":19.894,"e":0.01},{"s":"i","d":595,"m":19.913,"e":0.01},{"s":"i","d":610,"m":19.913,"e":0.01},{"s":"i","d":633,"m":19.929,"e":0.01},{"s":"i","d":651,"m":19.945,"e":0.01},{"s":"i","d":666,"m":19.977,"e":0.01},{"s":"i","d":675,"m":19.993,"e":0.01},{"s":"i","d":681,"m":19.965,"e":0.01},{"s":"i","d":698,"m":19.981,"e":0.01},{"s":"i","d":713,"m":20.008,"e":0.01},{"s":"i","d":893,"m":19.921,"e":0.01},{"s":"i","d":908,"m":19.886,"e":0.01},{"s":"i","d":919,"m":19.830,"e":0.01},{"s":"i","d":925,"m":19.862,"e":0.01},{"s":"i","d":937,"m":19.894,"e":0.01},{"s":"i","d":955,"m":19.965,"e":0.01},{"s":"i","d":963,"m":19.945,"e":0.01},{"s":"i","d":972,"m":19.985,"e":0.01},{"s":"i","d":972,"m":20.012,"e":0.01},{"s":"i","d":987,"m":19.985,"e":0.01},{"s":"i","d":996,"m":19.937,"e":0.01},{"s":"i","d":1008,"m":19.969,"e":0.01},{"s":"i","d":1016,"m":19.925,"e":0.01},{"s":"i","d":1017,"m":19.933,"e":0.01},{"s":"i","d":1019,"m":19.894,"e":0.01},{"s":"i","d":1022,"m":19.898,"e":0.01},{"s":"i","d":1034,"m":19.874,"e":0.01},{"s":"i","d":1046,"m":19.921,"e":0.01},{"s":"i","d":1049,"m":19.945,"e":0.01},{"s":"i","d":1061,"m":19.929,"e":0.01},{"s":"i","d":1067,"m":19.898,"e":0.01},{"s":"i","d":1070,"m":19.862,"e":0.01},{"s":"i","d":1081,"m":19.925,"e":0.01},{"s":"i","d":1261,"m":19.779,"e":0.01},{"s":"i","d":1273,"m":19.834,"e":0.01},{"s":"i","d":1288,"m":19.767,"e":0.01},{"s":"i","d":1297,"m":19.795,"e":0.01},{"s":"i","d":1305,"m":19.826,"e":0.01},{"s":"i","d":1317,"m":19.795,"e":0.01},{"s":"i","d":1326,"m":19.787,"e":0.01},{"s":"i","d":1343,"m":19.771,"e":0.01},{"s":"i","d":1351,"m":19.799,"e":0.01},{"s":"i","d":1367,"m":19.723,"e":0.01},{"s":"i","d":1382,"m":19.727,"e":0.01},{"s":"i","d":1394,"m":19.767,"e":0.01},{"s":"i","d":1403,"m":19.715,"e":0.01},{"s":"i","d":1408,"m":19.731,"e":0.01},{"s":"i","d":1435,"m":19.810,"e":0.01},{"s":"i","d":1436,"m":19.874,"e":0.01},{"s":"i","d":1444,"m":19.850,"e":0.01},{"s":"i","d":1459,"m":19.882,"e":0.01},
{"s":"z","d":521,"m":19.874,"e":0.013},{"s":"z","d":524,"m":19.905,"e":0.013},{"s":"z","d":533,"m":19.878,"e":0.013},{"s":"z","d":542,"m":19.910,"e":0.013},{"s":"z","d":548,"m":19.878,"e":0.013},{"s":"z","d":554,"m":19.925,"e":0.013},{"s":"z","d":560,"m":19.917,"e":0.013},{"s":"z","d":577,"m":19.961,"e":0.013},{"s":"z","d":583,"m":20.020,"e":0.013},{"s":"z","d":589,"m":19.973,"e":0.013},{"s":"z","d":604,"m":19.981,"e":0.013},{"s":"z","d":616,"m":20.004,"e":0.013},{"s":"z","d":625,"m":19.953,"e":0.013},{"s":"z","d":630,"m":20.016,"e":0.013},{"s":"z","d":645,"m":20.044,"e":0.013},{"s":"z","d":654,"m":20.004,"e":0.013},{"s":"z","d":663,"m":20.044,"e":0.013},{"s":"z","d":669,"m":20.103,"e":0.013},{"s":"z","d":678,"m":20.020,"e":0.013},{"s":"z","d":684,"m":20.080,"e":0.013},{"s":"z","d":692,"m":20.068,"e":0.013},{"s":"z","d":701,"m":20.044,"e":0.013},{"s":"z","d":716,"m":20.100,"e":0.013},{"s":"z","d":719,"m":20.088,"e":0.013},{"s":"z","d":896,"m":20.012,"e":0.013},{"s":"z","d":910,"m":19.989,"e":0.013},{"s":"z","d":910,"m":19.933,"e":0.013},{"s":"z","d":913,"m":19.961,"e":0.013},{"s":"z","d":922,"m":19.917,"e":0.013},{"s":"z","d":931,"m":19.965,"e":0.013},{"s":"z","d":946,"m":20.012,"e":0.013},{"s":"z","d":960,"m":20.060,"e":0.013},{"s":"z","d":963,"m":20.036,"e":0.013},{"s":"z","d":972,"m":20.084,"e":0.013},{"s":"z","d":987,"m":20.032,"e":0.013},{"s":"z","d":996,"m":20.028,"e":0.013},{"s":"z","d":1005,"m":20.056,"e":0.013},{"s":"z","d":1006,"m":20.072,"e":0.013},{"s":"z","d":1011,"m":20.052,"e":0.013},{"s":"z","d":1014,"m":20.012,"e":0.013},{"s":"z","d":1016,"m":20.020,"e":0.013},{"s":"z","d":1022,"m":19.989,"e":0.013},{"s":"z","d":1043,"m":19.996,"e":0.013},{"s":"z","d":1055,"m":20.028,"e":0.013},{"s":"z","d":1067,"m":19.969,"e":0.013},{"s":"z","d":1081,"m":20.036,"e":0.013},{"s":"z","d":1276,"m":19.886,"e":0.013},{"s":"z","d":1277,"m":19.917,"e":0.013},{"s":"z","d":1291,"m":19.894,"e":0.013},{"s":"z","d":1305,"m":19.882,"e":0.013},{"s":"z","d":1320,"m":19.870,"e":0.013},{"s":"z","d":1338,"m":19.842,"e":0.013},{"s":"z","d":1361,"m":19.858,"e":0.013},{"s":"z","d":1362,"m":19.878,"e":0.013},{"s":"z","d":1382,"m":19.806,"e":0.013},{"s":"z","d":1388,"m":19.826,"e":0.013},{"s":"z","d":1400,"m":19.846,"e":0.013},{"s":"z","d":1411,"m":19.850,"e":0.013},{"s":"z","d":1420,"m":19.894,"e":0.013},{"s":"z","d":1426,"m":19.925,"e":0.013},{"s":"z","d":1435,"m":19.957,"e":0.013},{"s":"z","d":1450,"m":19.993,"e":0.013},{"s":"z","d":1459,"m":19.945,"e":0.013},
{"s":"J","d":524,"m":20.016,"e":0.008},{"s":"J","d":530,"m":20.040,"e":0.008},{"s":"J","d":548,"m":20.052,"e":0.008},{"s":"J","d":557,"m":20.064,"e":0.008},{"s":"J","d":566,"m":20.068,"e":0.008},{"s":"J","d":592,"m":20.127,"e":0.008},{"s":"J","d":604,"m":20.115,"e":0.008},{"s":"J","d":610,"m":20.135,"e":0.008},{"s":"J","d":642,"m":20.147,"e":0.008},{"s":"J","d":684,"m":20.198,"e":0.008},{"s":"J","d":686,"m":20.163,"e":0.008},{"s":"J","d":710,"m":20.190,"e":0.008},{"s":"J","d":893,"m":20.119,"e":0.008},{"s":"J","d":910,"m":20.103,"e":0.008},{"s":"J","d":925,"m":20.080,"e":0.008},{"s":"J","d":940,"m":20.119,"e":0.008},{"s":"J","d":946,"m":20.131,"e":0.008},{"s":"J","d":958,"m":20.151,"e":0.008},{"s":"J","d":969,"m":20.183,"e":0.008},{"s":"J","d":981,"m":20.155,"e":0.008},{"s":"J","d":990,"m":20.135,"e":0.008},{"s":"J","d":1011,"m":20.119,"e":0.008},{"s":"J","d":1034,"m":20.076,"e":0.008},{"s":"J","d":1052,"m":20.139,"e":0.008},{"s":"J","d":1078,"m":20.135,"e":0.008},{"s":"J","d":1267,"m":20.020,"e":0.008},{"s":"J","d":1282,"m":20.056,"e":0.008},{"s":"J","d":1297,"m":20.028,"e":0.008},{"s":"J","d":1303,"m":20.000,"e":0.008},{"s":"J","d":1317,"m":20.028,"e":0.008},{"s":"J","d":1323,"m":20.004,"e":0.008},{"s":"J","d":1346,"m":19.996,"e":0.008},{"s":"J","d":1352,"m":20.000,"e":0.008},{"s":"J","d":1367,"m":19.969,"e":0.008},{"s":"J","d":1388,"m":19.993,"e":0.008},{"s":"J","d":1408,"m":19.985,"e":0.008},{"s":"J","d":1417,"m":20.000,"e":0.008},{"s":"J","d":1429,"m":20.076,"e":0.008},{"s":"J","d":1435,"m":20.036,"e":0.008},{"s":"J","d":1456,"m":20.084,"e":0.008}
],
"labels": [
{"t":"r","s":"r","d":1373,"m":20.067},
{"t":"i","s":"i","d":1373,"m":20.119},
{"t":"z","s":"z","d":1373,"m":20.171},
{"t":"J","s":"J","d":1373,"m":20.218},
{"t":"KS - 0.08","s":"Ks","d":1373,"m":20.266}
]
},
"layer": [
{
 "data": {"name": "ks"},
 "mark": {"type": "line", "strokeWidth": 1, "color": "#ff0000"},
 "encoding": {
  "x": {"field": "d", "type": "quantitative", "scale": {"domain": [505, 1465], "nice": false, "zero": false},
        "axis": {"orient": "bottom", "values": [600, 800, 1000, 1200, 1400], "format": "d", "tickSize": -10, "labelPadding": 22, "title": "epoch (days)", "titlePadding": 6}},
  "y": {"field": "m", "type": "quantitative", "scale": {"domain": [19.2, 20.3], "reverse": true, "nice": false, "zero": false},
        "axis": {"orient": "left", "values": [19.2, 19.4, 19.6, 19.8, 20.0, 20.2], "format": ".1f", "tickSize": -10, "labelPadding": 17, "title": "mag AB", "titlePadding": 9}}
 }
},
{
 "data": {"name": "lines"},
 "mark": {"type": "line", "strokeWidth": 1},
 "encoding": {
  "x": {"field": "d", "type": "quantitative", "scale": {"domain": [505, 1465], "nice": false, "zero": false},
        "axis": {"orient": "top", "values": [600, 800, 1000, 1200, 1400], "tickSize": -10, "labels": false, "title": null, "domainColor": "#000"}},
  "y": {"field": "m", "type": "quantitative", "scale": {"domain": [19.2, 20.3], "reverse": true, "nice": false, "zero": false},
        "axis": {"orient": "right", "values": [19.2, 19.4, 19.6, 19.8, 20.0, 20.2], "tickSize": -10, "labels": false, "title": null}},
  "color": {"field": "s", "type": "nominal", "scale": {"domain": ["Ks", "r", "i", "z", "J"], "range": ["#ff0000", "#4a0fc8", "#00bfff", "#00f000", "#ffd700"]}, "legend": null}
 }
},
{
 "data": {"name": "pts"},
 "mark": {"type": "errorbar", "ticks": {"size": 14}, "thickness": 1.2},
 "encoding": {
  "x": {"field": "d", "type": "quantitative", "scale": {"domain": [505, 1465], "nice": false, "zero": false}, "axis": null},
  "y": {"field": "m", "type": "quantitative", "scale": {"domain": [19.2, 20.3], "reverse": true, "nice": false, "zero": false}, "axis": null},
  "yError": {"field": "e"},
  "color": {"field": "s", "type": "nominal", "scale": {"domain": ["Ks", "r", "i", "z", "J"], "range": ["#ff0000", "#4a0fc8", "#00bfff", "#00f000", "#ffd700"]}, "legend": null}
 }
},
{
 "data": {"name": "pts"},
 "mark": {"type": "circle", "size": 135, "opacity": 1},
 "encoding": {
  "x": {"field": "d", "type": "quantitative", "scale": {"domain": [505, 1465], "nice": false, "zero": false},
        "axis": {"orient": "bottom", "values": [550,600,650,700,750,800,850,900,950,1000,1050,1100,1150,1200,1250,1300,1350,1400,1450], "tickSize": -5, "labels": false, "domain": false, "title": null}},
  "y": {"field": "m", "type": "quantitative", "scale": {"domain": [19.2, 20.3], "reverse": true, "nice": false, "zero": false},
        "axis": {"orient": "left", "values": [19.25,19.3,19.35,19.45,19.5,19.55,19.65,19.7,19.75,19.85,19.9,19.95,20.05,20.1,20.15,20.25], "tickSize": -5, "labels": false, "domain": false, "title": null}},
  "color": {"field": "s", "type": "nominal", "scale": {"domain": ["Ks", "r", "i", "z", "J"], "range": ["#ff0000", "#4a0fc8", "#00bfff", "#00f000", "#ffd700"]}, "legend": null}
 }
},
{
 "data": {"name": "labels"},
 "mark": {"type": "text", "align": "right", "baseline": "middle", "fontSize": 18, "font": "DejaVu Sans"},
 "encoding": {
  "x": {"field": "d", "type": "quantitative", "scale": {"domain": [505, 1465], "nice": false, "zero": false},
        "axis": {"orient": "top", "values": [550,600,650,700,750,800,850,900,950,1000,1050,1100,1150,1200,1250,1300,1350,1400,1450], "tickSize": -5, "labels": false, "domain": false, "title": null}},
  "y": {"field": "m", "type": "quantitative", "scale": {"domain": [19.2, 20.3], "reverse": true, "nice": false, "zero": false},
        "axis": {"orient": "right", "values": [19.25,19.3,19.35,19.45,19.5,19.55,19.65,19.7,19.75,19.85,19.9,19.95,20.05,20.1,20.15,20.25], "tickSize": -5, "labels": false, "domain": false, "title": null}},
  "text": {"field": "t"},
  "color": {"field": "s", "type": "nominal", "scale": {"domain": ["Ks", "r", "i", "z", "J"], "range": ["#ff0000", "#4a0fc8", "#00bfff", "#00f000", "#ffd700"]}, "legend": null}
 }
}
],
"resolve": {"axis": {"x": "independent", "y": "independent"}}
}
